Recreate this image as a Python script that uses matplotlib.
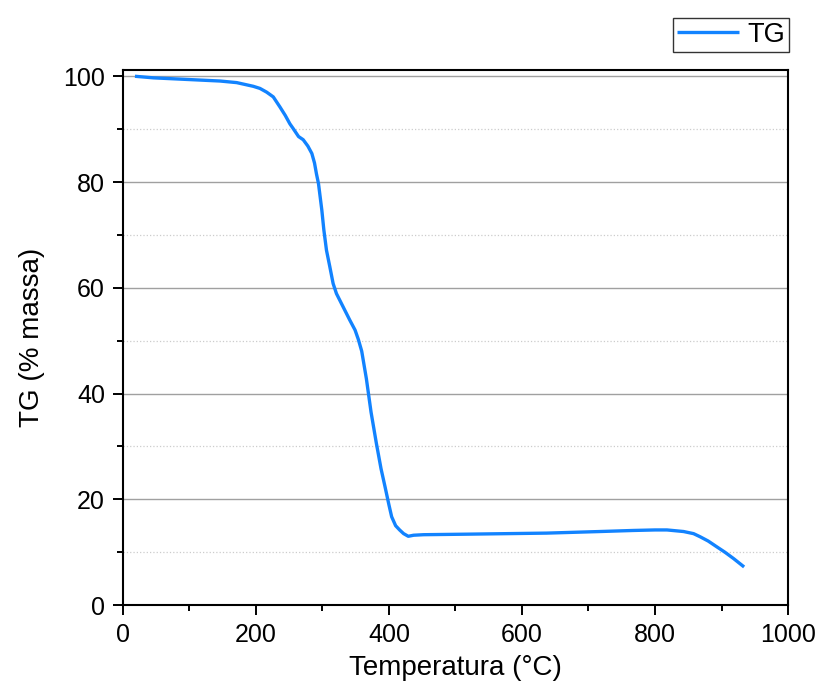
import numpy as np
from matplotlib import pyplot as plt
from matplotlib.ticker import MultipleLocator

plt.rcParams['font.family'] = ['Liberation Sans', 'DejaVu Sans']

# TG curve
temp = [18, 46, 96, 146, 171, 196, 206, 216, 226, 236, 244, 251, 256, 264, 271, 278,
        284, 288, 291, 294, 299, 302, 306, 311, 316, 321, 331, 341, 349, 354, 359,
        366, 373, 381, 388, 394, 400, 404, 410, 416, 422, 429, 437, 452, 517, 637,
        717, 767, 800, 818, 843, 858, 868, 880, 893, 905, 918, 934]
mass = [100.0, 99.7, 99.4, 99.1, 98.8, 98.1, 97.7, 97.0, 96.1, 94.2, 92.6, 91.0, 90.1,
        88.6, 88.0, 86.8, 85.4, 83.6, 81.5, 79.7, 74.7, 71.0, 67.1, 64.0, 60.8, 58.9,
        56.4, 53.9, 52.0, 50.2, 48.0, 42.8, 36.5, 30.6, 25.8, 22.4, 18.9, 16.7, 15.0,
        14.2, 13.5, 13.0, 13.2, 13.3, 13.4, 13.6, 13.9, 14.1, 14.2, 14.2, 13.9, 13.5,
        12.9, 12.1, 11.0, 10.0, 8.8, 7.2]

fig = plt.figure(figsize=(8.16, 6.88), dpi=100)
ax = fig.add_axes([0.1507, 0.1206, 0.815, 0.777])

ax.plot(temp, mass, '-', color='#1283ff', lw=2.4, label='TG',
        solid_joinstyle='round', solid_capstyle='butt')

ax.set_xlim(0, 1000)
ax.set_ylim(0, 101.1)
ax.xaxis.set_major_locator(MultipleLocator(200))
ax.xaxis.set_minor_locator(MultipleLocator(100))
ax.yaxis.set_major_locator(MultipleLocator(20))
ax.yaxis.set_minor_locator(MultipleLocator(10))

ax.grid(axis='y', which='major', color='#a0a0a0', lw=1.0)
ax.grid(axis='y', which='minor', color='#cccccc', lw=0.9, ls=':')
ax.set_axisbelow(True)

ax.tick_params(which='major', direction='out', length=7, width=1.4, labelsize=18, pad=6)
ax.tick_params(which='minor', direction='out', length=4, width=1.4)
for s in ax.spines.values():
    s.set_linewidth(1.5)

ax.set_xlabel('Temperatura (°C)', fontsize=20, labelpad=6)
ax.set_ylabel('TG (% massa)', fontsize=20, labelpad=13)

leg = ax.legend(loc='lower right', bbox_to_anchor=(1.002, 1.035), fontsize=19.5,
                frameon=True, fancybox=False, edgecolor='black', handlelength=2.3,
                borderpad=0.15, handletextpad=0.3, borderaxespad=0)
leg.get_frame().set_linewidth(1.0)

plt.savefig('out.png', dpi=100)
